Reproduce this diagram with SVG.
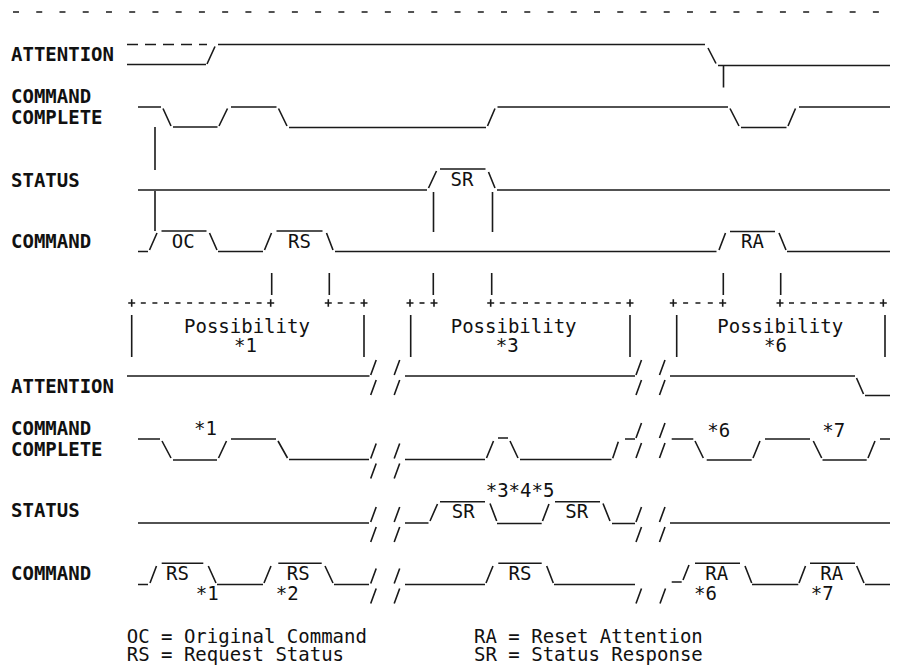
<svg xmlns="http://www.w3.org/2000/svg" xmlns:xlink="http://www.w3.org/1999/xlink" width="897" height="670" viewBox="0 0 897 670">
<style>
.w{fill:none;stroke:#1a1a1a;stroke-width:1.6}
.d{fill:none;stroke:#1a1a1a;stroke-width:1.6}
.t{font-family:"DejaVu Sans Mono","Liberation Mono",monospace;font-size:19px;fill:#111}
.lb{font-weight:bold}
.m{text-anchor:middle}
</style>
<defs>
<path id="brk" class="w" d="M0,0 L5.5,-15 M23.5,0 L29,-15 M0,20 L5.5,5 M23.5,20 L29,5"/>
<path id="brkLow" class="w" d="M0,20 L5.5,5 M24,20 L29.5,5"/>
<path id="plus" class="w" d="M-3.5,0 H3.5 M0,-3.7 V3.7"/>
</defs>
<rect width="897" height="670" fill="#fff"/>

<g id="top-rule">
<path class="d" d="M13,12 H880" stroke-dasharray="6 17.24"/>
</g>

<g id="labels-upper" class="t lb">
<text x="11" y="61">ATTENTION</text>
<text x="11" y="103">COMMAND</text>
<text x="11" y="124">COMPLETE</text>
<text x="11" y="187">STATUS</text>
<text x="11" y="248">COMMAND</text>
</g>

<g id="attention-upper">
<path class="d" d="M127,44.5 H207" stroke-dasharray="11 7"/>
<path class="w" d="M127,64.5 H206 M207,64 L215,46.5 M218,44.5 H705 M708,48 L716,63.5 M718,65.5 H890 M723.5,65.5 V87.5"/>
</g>

<g id="command-complete-upper">
<path class="w" d="M138,107 H161 M163,108.5 L171,126 M173,127 H217.5 M219,126 L227.5,108.5 M231,107 H276.5 M278.5,108.5 L287,126 M289,127.5 H486 M487.5,126 L495,108.5 M497.5,107 H728 M730,108.5 L739,126 M741,127.5 H786.5 M788,126 L795.5,108.5 M799,107 H890"/>
<path class="w" d="M155,127 V170 M155,191 V231"/>
</g>

<g id="status-upper">
<path class="w" d="M138,190 H427 M428.5,188 L436.5,171 M440,169 H485.5 M488.5,172 L495,188 M497,190 H890"/>
<path class="w" d="M433.5,192 V232 M492.5,192 V232"/>
<text class="t m" x="462" y="186">SR</text>
</g>

<g id="command-upper">
<path class="w" d="M138,251.5 H148 M149.5,250 L157,233 M161.5,231 H206.5 M209.5,233 L217,250 M218,251.5 H263 M264.5,250 L271.5,233 M276.5,231 H322.5 M326.5,233 L333,250 M335,251.5 H716.5 M719,250 L725.5,233 M730,231.5 H775 M779,233 L786,250 M787,251.5 H890"/>
<text class="t m" x="183.3" y="248">OC</text>
<text class="t m" x="299.5" y="248">RS</text>
<text class="t m" x="752.5" y="248">RA</text>
</g>

<g id="connectors">
<path class="w" d="M271.7,273 V295 M329.3,273 V295 M433.3,273 V295 M491.7,273 V295 M723.3,273 V295 M780.7,273 V295"/>
<use href="#plus" xlink:href="#plus" x="131.7" y="303"/>
<use href="#plus" xlink:href="#plus" x="270.7" y="303"/>
<use href="#plus" xlink:href="#plus" x="328.3" y="303"/>
<use href="#plus" xlink:href="#plus" x="364" y="303"/>
<use href="#plus" xlink:href="#plus" x="410" y="303"/>
<use href="#plus" xlink:href="#plus" x="434" y="303"/>
<use href="#plus" xlink:href="#plus" x="490.7" y="303"/>
<use href="#plus" xlink:href="#plus" x="630" y="303"/>
<use href="#plus" xlink:href="#plus" x="673.3" y="303"/>
<use href="#plus" xlink:href="#plus" x="722.7" y="303"/>
<use href="#plus" xlink:href="#plus" x="780" y="303"/>
<use href="#plus" xlink:href="#plus" x="883.3" y="303"/>
<path class="d" d="M140.8,303 H261.6" stroke-dasharray="5 6.58"/>
<path class="d" d="M337.7,303 H354.6" stroke-dasharray="5 6.9"/>
<path class="d" d="M419.5,303 H424.5"/>
<path class="d" d="M499.8,303 H620.9" stroke-dasharray="5 6.6"/>
<path class="d" d="M683.1,303 H712.9" stroke-dasharray="5 7.35"/>
<path class="d" d="M789,303 H874.3" stroke-dasharray="5 6.48"/>
<path class="w" d="M131.7,315 V357 M364,315 V357 M410.7,315 V357 M630,315 V357 M676.7,315 V357 M885,315 V357"/>
</g>

<g id="possibility-1" class="t">
<text x="184" y="333">Possibility</text>
<text x="234" y="352">*1</text>
</g>
<g id="possibility-3" class="t">
<text x="450.7" y="333">Possibility</text>
<text x="495.7" y="352">*3</text>
</g>
<g id="possibility-6" class="t">
<text x="717.3" y="333">Possibility</text>
<text x="764" y="352">*6</text>
</g>

<g id="labels-lower" class="t lb">
<text x="11" y="393">ATTENTION</text>
<text x="11" y="435">COMMAND</text>
<text x="11" y="456">COMPLETE</text>
<text x="11" y="517">STATUS</text>
<text x="11" y="580">COMMAND</text>
</g>

<g id="attention-lower">
<path class="w" d="M127,376 H369.5 M405,376 H635 M670,376 H855 M856.5,378 L863.5,394 M865,395.5 H890"/>
<use href="#brk" xlink:href="#brk" x="370.7" y="375"/>
<use href="#brk" xlink:href="#brk" x="636" y="375"/>
</g>

<g id="command-complete-lower">
<path class="w" d="M138,439 H160 M162,441 L171,458 M173,460 H217 M218.5,458 L226.5,441 M231,439 H276 M278,441 L287.5,458 M289,459.5 H369 M405,459.5 H485 M486.5,458 L493.5,441 M498,438 H508 M510,441 L518,458 M520,459.5 H611.5 M612.7,458.3 L618.3,441.7 M625,439 H635 M671.7,439 H693.3 M695,441 L703.3,458 M706.7,460 H751.7 M753,458 L760,441 M765,439 H810 M813.3,441 L821.7,458 M822.5,460 H866.7 M868,458 L875,441 M880,439 H890"/>
<use href="#brk" xlink:href="#brk" x="370.7" y="458.5"/>
<use href="#brk" xlink:href="#brk" x="636" y="438"/>
<text class="t" x="194" y="435">*1</text>
<text class="t" x="707.3" y="436.5">*6</text>
<text class="t" x="822.3" y="436.5">*7</text>
</g>

<g id="status-lower">
<path class="w" d="M138,523 H369 M405,523 H428.5 M430,521 L437.5,504 M440,501.7 H485 M490,503.5 L496.7,521 M497,523.5 H541.7 M542.5,521 L549,504 M555,501.7 H600 M603,503.5 L610,521 M612,523.5 H635 M670,523 H890"/>
<use href="#brk" xlink:href="#brk" x="370.7" y="522"/>
<use href="#brk" xlink:href="#brk" x="636" y="522"/>
<text class="t m" x="463.3" y="518.3">SR</text>
<text class="t m" x="576.7" y="518.3">SR</text>
<text class="t" x="485.7" y="496.7">*3*4*5</text>
</g>

<g id="command-lower">
<path class="w" d="M138,584.5 H148 M150,583 L156.5,566 M161.7,563.3 H203.3 M208.3,566 L216,583 M217,584.5 H263 M264,583 L271,566 M278.3,563.3 H321.7 M325,566 L333,583 M334,584.5 H369 M405,584.5 H485 M486,583 L493,566 M498.3,563.3 H541.7 M546.7,566 L553.3,583 M554,584.5 H635 M671.7,582 H681.7 M683,580 L689,565 M695,563.3 H740 M745,566 L751.7,583 M752,584.5 H798.3 M799,583 L805.5,566 M810,563.3 H855 M856.7,566 L864,583 M865,584.5 H890"/>
<use href="#brk" xlink:href="#brk" x="370.7" y="583.5"/>
<use href="#brkLow" xlink:href="#brkLow" x="636" y="583.5"/>
<text class="t m" x="177.5" y="580">RS</text>
<text class="t m" x="298.3" y="580">RS</text>
<text class="t m" x="520" y="580">RS</text>
<text class="t m" x="716.7" y="580">RA</text>
<text class="t m" x="831.7" y="580">RA</text>
<text class="t" x="195.7" y="600">*1</text>
<text class="t" x="275.7" y="600">*2</text>
<text class="t" x="694" y="600">*6</text>
<text class="t" x="810.7" y="600">*7</text>
</g>

<g id="legend" class="t">
<text x="126.7" y="643">OC = Original Command</text>
<text x="126.7" y="661">RS = Request Status</text>
<text x="474" y="643">RA = Reset Attention</text>
<text x="474" y="661">SR = Status Response</text>
</g>
</svg>
